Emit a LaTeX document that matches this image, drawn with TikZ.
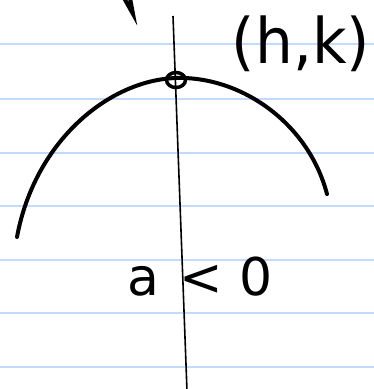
\documentclass[tikz,border=0pt]{standalone}
\usepackage{fontspec}
\usepackage{graphicx}
\usetikzlibrary{shapes.geometric}
\newfontfamily\handfont{DejaVu Sans}
\definecolor{ruleblue}{RGB}{195,218,250}
\tikzset{
  ruled/.style={ruleblue, line width=2.2pt},
  axisline/.style={black, line width=1.6pt},
  curve/.style={black, line width=4pt, line cap=round},
  handtext/.style={inner sep=0pt, text=black},
}
\begin{document}
\begin{tikzpicture}[x=1pt,y=-1pt]
\useasboundingbox[fill=white] (0,0) rectangle (374,389);
% ruled lines
\foreach \yy in {44,99,153,206,260,313,367}
  \draw[ruled] (0,\yy) -- (374,\yy);
% axis
\coordinate (axtop) at (173,16);
\coordinate (axbot) at (187,391);
\draw[axisline] (axtop) -- (axbot);
% parabola
\coordinate (vtx) at (176,78);
\coordinate (lend) at (17,237);
\coordinate (rend) at (327,194);
\draw[curve] (lend) .. controls (35,140) and (110,80) .. (vtx)
             .. controls (240,76) and (308,122) .. (rend);
% vertex mark
\node[draw, ellipse, line width=3.5pt, minimum width=19pt, minimum height=15pt, inner sep=0pt] (vmark) at (176,80) {};
% partial stroke at top
\draw[curve, line width=4pt] (124,-2) -- (133,14) -- (130,-2);
% labels
\node[handtext] (hk) at (301,43.5) {\resizebox*{138pt}{56pt}{\handfont (h,k)}};
\node[handtext] (cond) at (200,277) {\fontsize{52pt}{58pt}\handfont a\hspace{20pt}<\hspace{16pt}0};
\end{tikzpicture}
\end{document}
